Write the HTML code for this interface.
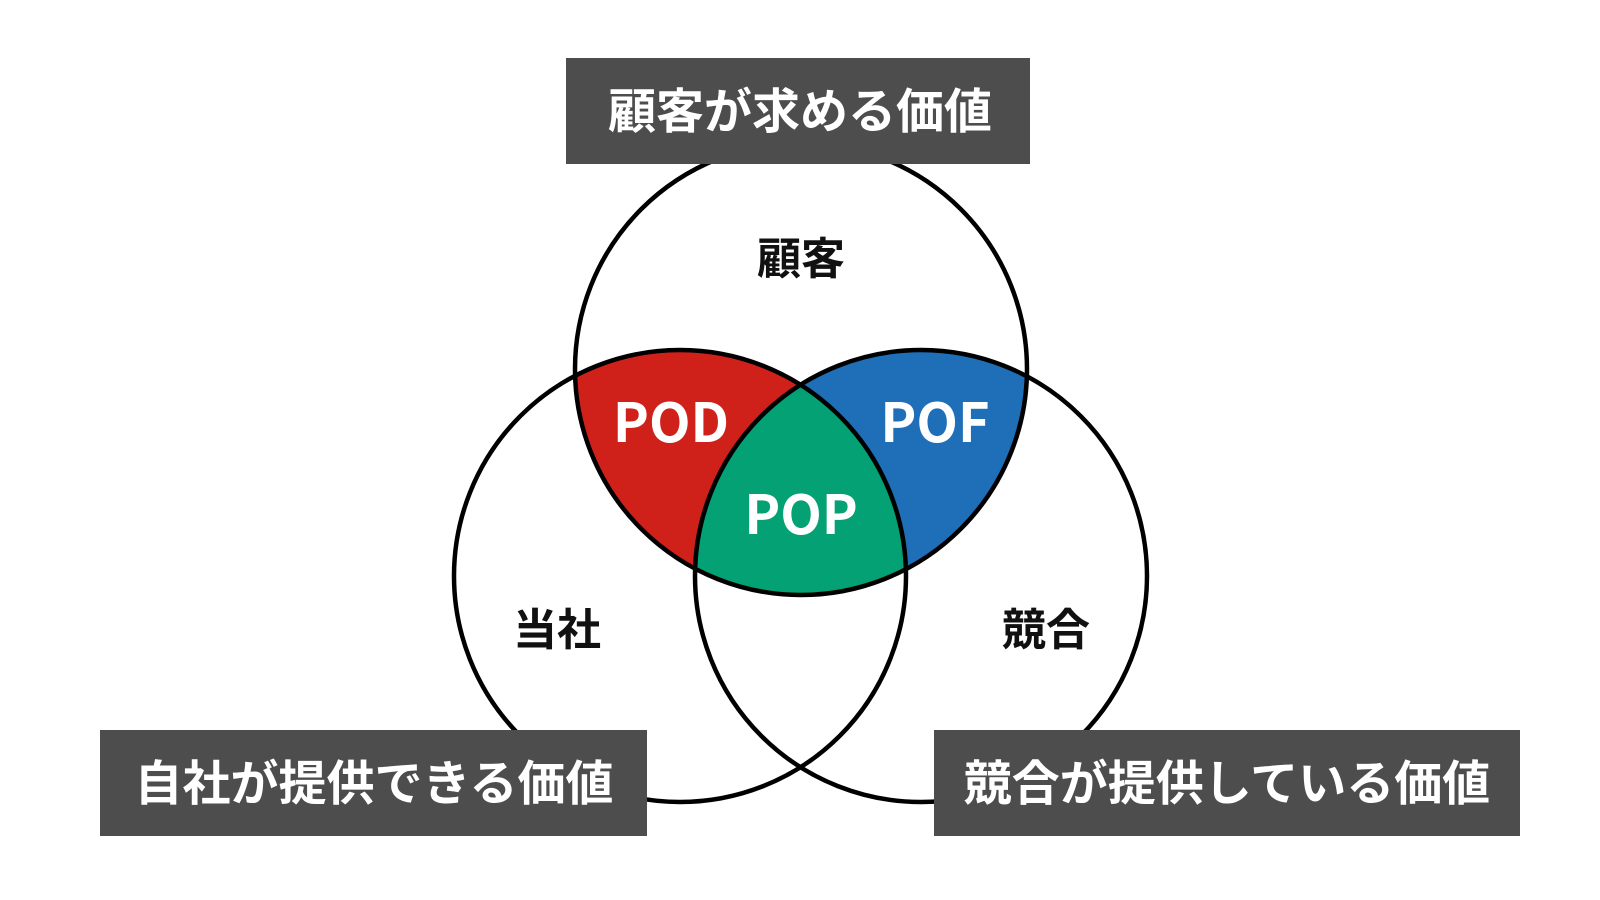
<!DOCTYPE html>
<html><head><meta charset="utf-8"><style>
html,body{margin:0;padding:0;background:#fff;}
svg{display:block;}
text{font-family:"Noto Sans CJK JP","Liberation Sans",sans-serif;font-weight:bold;}
</style></head><body>
<svg width="1600" height="900" viewBox="0 0 1600 900" xmlns="http://www.w3.org/2000/svg">
<defs>
<clipPath id="cT"><circle cx="801" cy="369" r="226"/></clipPath>
<clipPath id="cL"><circle cx="680" cy="576" r="226"/></clipPath>
<clipPath id="cR"><circle cx="921" cy="576" r="226"/></clipPath>
</defs>
<g clip-path="url(#cT)"><circle cx="680" cy="576" r="226" fill="#d0201a"/></g>
<g clip-path="url(#cT)"><circle cx="921" cy="576" r="226" fill="#1f6fb8"/></g>
<g clip-path="url(#cT)"><g clip-path="url(#cL)"><circle cx="921" cy="576" r="226" fill="#03a173"/></g></g>
<g fill="none" stroke="#000" stroke-width="4.5">
<circle cx="801" cy="369" r="226"/>
<circle cx="680" cy="576" r="226"/>
<circle cx="921" cy="576" r="226"/>
</g>
<g font-size="44" fill="#111" text-anchor="middle">
<text x="801" y="274">顧客</text>
<text x="557" y="645">当社</text>
<text x="1046" y="645">競合</text>
</g>
<g font-size="54" fill="#fff" text-anchor="middle">
<text x="671" y="442">POD</text>
<text x="935" y="442">POF</text>
<text x="801" y="534">POP</text>
</g>
<rect x="566" y="58" width="464" height="106" fill="#4d4d4d"/>
<rect x="100" y="730" width="547" height="106" fill="#4d4d4d"/>
<rect x="934" y="730" width="586" height="106" fill="#4d4d4d"/>
<g font-size="48" fill="#fff" text-anchor="middle">
<text x="800" y="128">顧客が求める価値</text>
<text x="374" y="800">自社が提供できる価値</text>
<text x="1227" y="800">競合が提供している価値</text>
</g>
</svg>
</body></html>
